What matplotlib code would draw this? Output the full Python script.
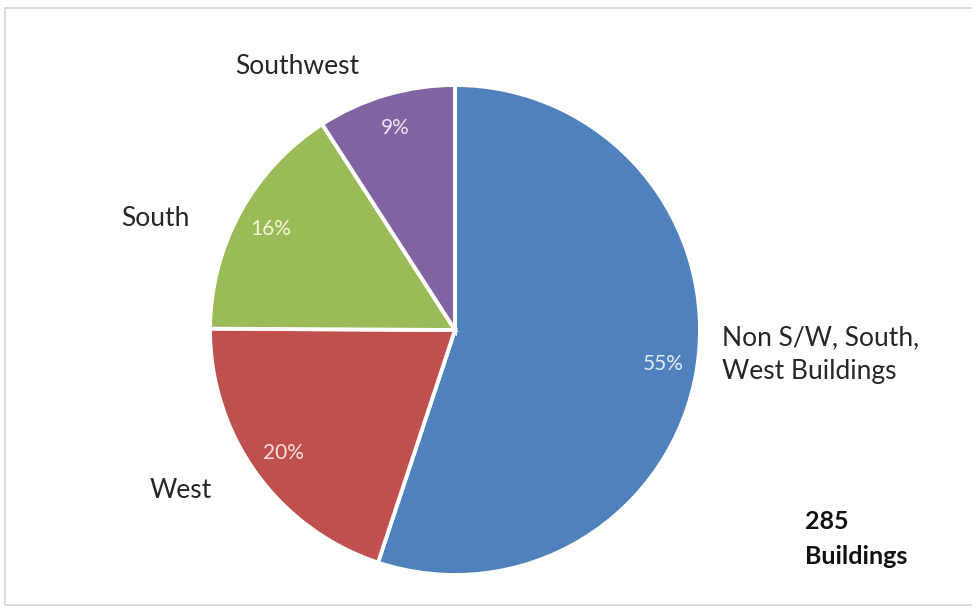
import matplotlib.pyplot as plt
from matplotlib.patches import Rectangle

# building counts by facade orientation (285 in total)
categories = ["Non S/W, South,\nWest Buildings", "West", "South", "Southwest"]
counts = [157, 57, 45, 26]
colors = ["#4f81bd", "#c0504d", "#9bbb59", "#8064a2"]
pct_colors = ["#e3ecf7", "#f7e0df", "#f2f7d9", "#ebe4f3"]
total_label = "285\nBuildings"

W, H = 972, 613
fig = plt.figure(figsize=(W / 100, H / 100), dpi=100)
ax = fig.add_axes([0, 0, 1, 1])

font = "Lato"
cx, cy, r = 455, H - 330, 245

wedges, texts, autotexts = ax.pie(
    counts, colors=colors, startangle=90, counterclock=False,
    center=(cx, cy), radius=r, autopct="%1.0f%%", pctdistance=0.86,
    wedgeprops=dict(edgecolor="white", linewidth=2.8), frame=True)
ax.set_xlim(0, W)
ax.set_ylim(0, H)
ax.set_aspect("equal")
ax.axis("off")

for t, c in zip(autotexts, pct_colors):
    t.set_color(c)
    t.set_fontsize(15)
    t.set_fontfamily(font)

# outside category labels
label_pos = [(722, H - 355, "left"), (181, H - 490, "center"),
             (155, H - 218, "center"), (297, H - 67, "center")]
for name, (x, y, ha) in zip(categories, label_pos):
    ax.text(x, y, name, ha=ha, va="center", fontsize=19, color="#262626",
            family=font, linespacing=1.45)

ax.text(805, H - 539, total_label, ha="left", va="center", fontsize=18,
        fontweight="bold", color="#111111", family=font, linespacing=1.65)

# light grey chart border
fig.add_artist(Rectangle((5 / W, 8 / H), 1.0, (605 - 8) / H,
                         transform=fig.transFigure, fill=False,
                         edgecolor="#d4d4d4", linewidth=1.2))

fig.savefig("out.png", dpi=100, facecolor="white")
